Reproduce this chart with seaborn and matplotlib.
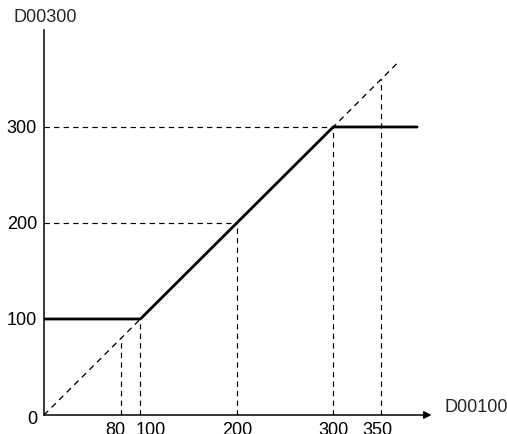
import matplotlib
matplotlib.use("Agg")
import matplotlib.pyplot as plt
import matplotlib.transforms as mtransforms
import seaborn as sns
import pandas as pd

# Clamped transfer characteristic: input D00100 -> output D00300
curve_x = [0, 100, 300, 387]
curve_y = [100, 100, 300, 300]

# Unclamped reference (output = input)
diag_x = [0, 367]
diag_y = [0, 367]

# Guide lines
guide_x = [80, 100, 200, 300, 350]
guide_y = [200, 300]

x_ticks = [80, 100, 200, 300, 350]
y_ticks = [0, 100, 200, 300]

sns.set_theme(style="white")
plt.rcParams["font.family"] = ["Liberation Sans", "DejaVu Sans"]

W, H = 507, 434
fig = plt.figure(figsize=(W / 100, H / 100), dpi=100)
ax = fig.add_axes([44 / W, (H - 415) / H, 386 / W, 385 / H])

dash = (0, (4.5, 3.6))
guide_kw = dict(color="black", lw=0.85, linestyle=dash)

curve = pd.DataFrame({"x": curve_x, "y": curve_y})
diag = pd.DataFrame({"x": diag_x, "y": diag_y})

sns.lineplot(data=diag, x="x", y="y", ax=ax, color="black", lw=0.95,
             linestyle=dash, sort=False)
ax.vlines(guide_x, 0, guide_x, **guide_kw)
ax.hlines(guide_y, 0, guide_y, **guide_kw)
sns.lineplot(data=curve, x="x", y="y", ax=ax, color="black", lw=2.0,
             sort=False, solid_joinstyle="miter")

ax.set_xlim(0, 400.4)
ax.set_ylim(0, 401)

for side in ["top", "right", "bottom"]:
    ax.spines[side].set_visible(False)
ax.spines["left"].set_color("black")
ax.spines["left"].set_linewidth(1.1)

# x axis drawn as an arrow
ax.annotate("", xy=(402, 0), xytext=(0, 0), xycoords="data",
            arrowprops=dict(arrowstyle="-|>", color="black", lw=1.1,
                            mutation_scale=11, shrinkA=0, shrinkB=0),
            annotation_clip=False)

ax.set_xticks(x_ticks)
ax.set_xticklabels([str(v) for v in x_ticks])
ax.set_yticks(y_ticks)
ax.set_yticklabels([str(v) for v in y_ticks])
ax.tick_params(axis="x", length=0, pad=5.0, labelsize=13, colors="black")
ax.tick_params(axis="y", length=0, pad=5, labelsize=13, colors="black")
ax.set_xlabel("")
ax.set_ylabel("")

# nudge crowded tick labels apart (pixel offsets)
x_nudge = {80: -6, 100: 10, 350: -4}
for lab, val in zip(ax.get_xticklabels(), x_ticks):
    dx = x_nudge.get(val, 0)
    if dx:
        lab.set_transform(lab.get_transform() +
                          mtransforms.ScaledTranslation(dx / 100, 0, fig.dpi_scale_trans))
y_labels = ax.get_yticklabels()
y_labels[0].set_transform(y_labels[0].get_transform() +
                          mtransforms.ScaledTranslation(0, -2 / 100, fig.dpi_scale_trans))

fig.text(45 / W, 1 - 18 / H, "D00300", ha="center", va="center", fontsize=13)
fig.text(445 / W, 1 - 407 / H, "D00100", ha="left", va="center", fontsize=13)

fig.savefig("out.png", dpi=100)
